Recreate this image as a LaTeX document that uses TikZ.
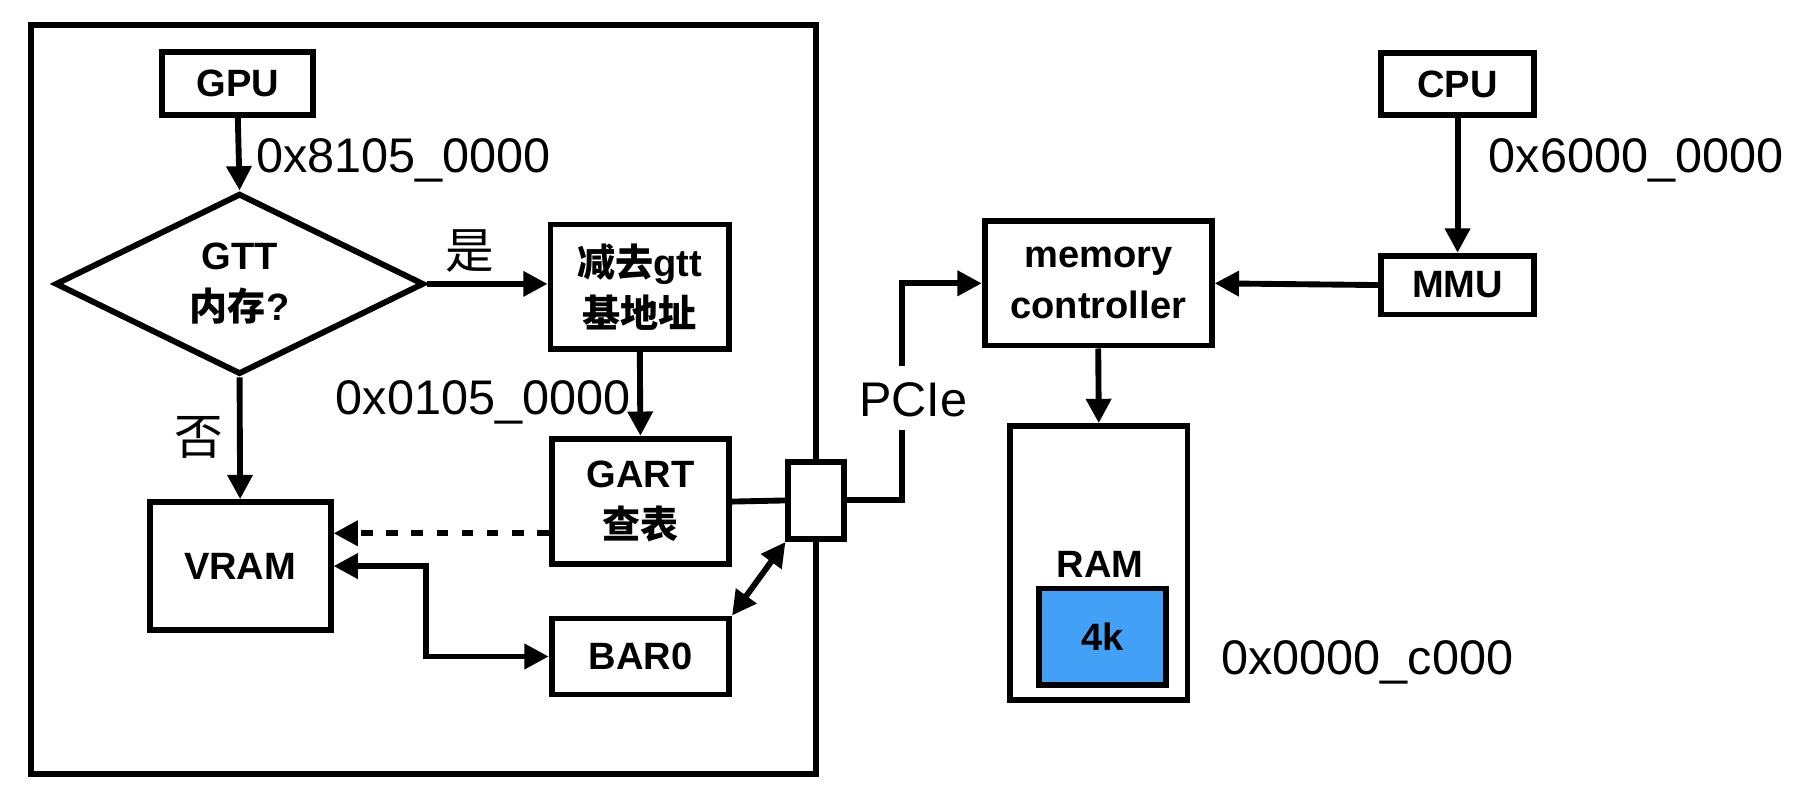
\documentclass[tikz,border=0pt]{standalone}
\usepackage{fontspec}
\setmainfont{Liberation Sans}
\newfontfamily\cjk{Noto Sans CJK SC}
\usetikzlibrary{arrows.meta,shapes.geometric}
\definecolor{ramblue}{HTML}{42A1F6}
\begin{document}
\begin{tikzpicture}[x=0.01cm,y=-0.01cm,
  line width=1.45pt,
  box/.style={draw, line width=1.45pt, inner sep=0pt, align=center,
    font=\fontsize{9.4}{12.6}\selectfont\bfseries},
  frame/.style={draw, line width=1.45pt, inner sep=0pt},
  lbl/.style={font=\fontsize{12}{14}\selectfont, inner sep=0pt},
  cjklbl/.style={font=\fontsize{12}{14}\selectfont\cjk, inner sep=0pt},
  arr/.style={-{Triangle[length=6pt,width=6pt]}},
  darr/.style={{Triangle[length=6pt,width=6pt]}-{Triangle[length=6pt,width=6pt]}},
]
\useasboundingbox (0,0) rectangle (1568,695);
% outer board
\node[frame, minimum width=6.81cm, minimum height=6.5cm] (board) at (367.5,347) {};
% GPU side
\node[box, minimum width=1.31cm, minimum height=0.55cm] (gpu) at (206.5,72.5) {GPU};
\node[box, diamond, aspect=2, minimum width=3.2cm, minimum height=1.57cm] (dia) at (208,246.5) {GTT\\{\cjk 内存}?};
\node[box, minimum width=1.55cm, minimum height=1.08cm] (sub) at (555.5,249) {{\cjk 减去}gtt\\{\cjk 基地址}};
\node[box, minimum width=1.54cm, minimum height=1.09cm] (gart) at (556,435.5) {GART\\{\cjk 查表}};
\node[box, minimum width=1.57cm, minimum height=1.11cm] (vram) at (208.5,491.5) {VRAM};
\node[box, minimum width=1.54cm, minimum height=0.66cm] (bar) at (556,570) {BAR0};
\node[frame, fill=white, minimum width=0.48cm, minimum height=0.67cm] (port) at (708.5,434.5) {};
% CPU side
\node[box, minimum width=1.97cm, minimum height=1.08cm] (mc) at (953.5,246) {memory\\controller};
\node[box, minimum width=1.33cm, minimum height=0.54cm] (cpu) at (1265.5,73) {CPU};
\node[box, minimum width=1.33cm, minimum height=0.51cm] (mmu) at (1265.5,247.5) {MMU};
\node[frame, minimum width=1.54cm, minimum height=2.38cm] (ram) at (954,489) {};
\node[box, fill=ramblue, minimum width=1.10cm, minimum height=0.84cm] (k4) at (957,553) {4k};
\node[font=\fontsize{9.4}{12.6}\selectfont\bfseries, inner sep=0pt] (ramlbl) at (955,490) {RAM};
% labels
\node[lbl, anchor=base west] (a1) at (220,150) {0x8105\_0000};
\node[lbl, anchor=base east] (a2) at (550,360) {0x0105\_0000};
\node[lbl, anchor=base west] (a3) at (1290,150) {0x6000\_0000};
\node[lbl, anchor=base west] (a4) at (1058,586) {0x0000\_c000};
\node[lbl, anchor=base] (pcie) at (793,362) {PCIe};
\node[cjklbl] (yes) at (408,218) {是};
\node[cjklbl] (no) at (173,380) {否};
% connectors
\draw[arr] (gpu.south) -- (dia.north);
\draw[arr] (dia.east) -- (dia.east -| sub.west);
\draw[arr] (sub.south) -- (gart.north);
\draw[arr] (dia.south) -- (vram.north);
\coordinate (g1) at ([yshift=-0.275cm]gart.west);
\draw[arr, dash pattern=on 2.9pt off 3.3pt] (g1) -- (g1 -| vram.east);
\draw[darr] (vram.east) -- ++(0.8cm,0) |- (bar.west);
\draw[darr] (bar.north east) -- (port.south west);
\draw (gart.east) -- (port.west);
\coordinate (p1) at (783,373);
\coordinate (p2) at (783,318);
\draw (port.east) -| (p1);
\draw[arr] (p2) |- (mc.west);
\draw[arr] (cpu.south) -- (mmu.north);
\draw[arr] (mmu.west) -- (mc.east);
\draw[arr] (mc.south) -- (ram.north);
\end{tikzpicture}
\end{document}
